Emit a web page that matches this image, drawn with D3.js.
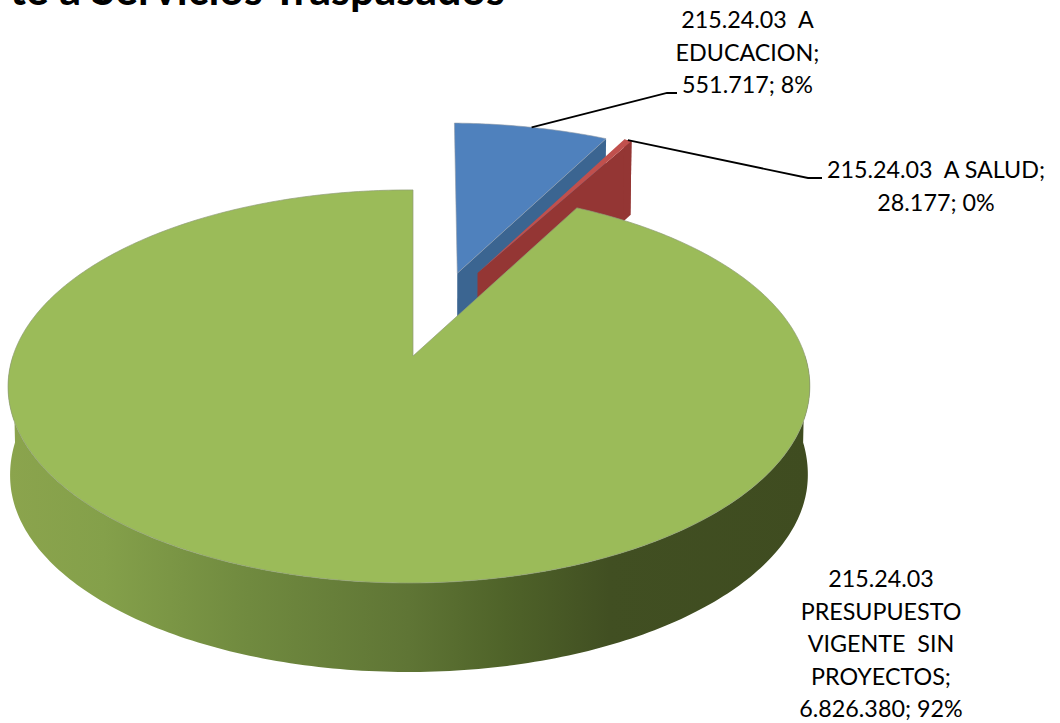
<!DOCTYPE html>
<html><head><meta charset="utf-8">
<script src="https://cdn.jsdelivr.net/npm/d3@7/dist/d3.min.js"></script>
<style>html,body{margin:0;padding:0;background:#fff}svg{display:block}</style></head>
<body><svg id="c" width="1060" height="723"></svg>
<script>
const categories = ["215.24.03  A EDUCACION","215.24.03  A SALUD","215.24.03  PRESUPUESTO VIGENTE  SIN PROYECTOS"];
const values = [551717, 28177, 6826380];
const percents = ["8%","0%","92%"];
const valueLabels = ["551.717","28.177","6.826.380"];
const labelLines = [["215.24.03  A","EDUCACION;","551.717; 8%"],["215.24.03  A SALUD;","28.177; 0%"],["215.24.03","PRESUPUESTO","VIGENTE  SIN","PROYECTOS;","6.826.380; 92%"]];
const topColors = ["#4f81bd","#c0504d","#9bbb59"];
const sideColors = ["#3b6591","#943634","#5f7534"];
const titleText = "te a Servicios Traspasados";

// layout of the 3D projection
const explode = [[0.12,0.463],[0.175,0.464],[0,0]];
const radii = [1.035,1.03,1];
const spins = [0.0087,0.012,0];
const svg = d3.select("#c");
const Cx=413, Cy=356, A=396, B=191.8, k=0.155, m=0.01;
function proj(u,v){const w=1+k*v+m*u;return [Cx+A*u/w,Cy-B*v/w];}
function depth(p){const D=74+Math.min(1,(p[1]-140)/260)*15;return [Cx+(p[0]-Cx)*0.995,p[1]+D];}
const pie=d3.pie().sort(null).value(d=>d)(values);
function pt(i,a,r=radii[i]){const e=explode[i],b=a+spins[i];return proj(e[0]+r*Math.sin(b),e[1]+r*Math.cos(b));}
const line=d3.line();
function arcPts(i,a0,a1,n){return d3.range(n+1).map(j=>pt(i,a0+(a1-a0)*j/n));}

const defs=svg.append("defs");
const grad=defs.append("linearGradient").attr("id","sideG").attr("gradientUnits","userSpaceOnUse").attr("x1",8).attr("x2",810).attr("y1",0).attr("y2",0);
[[0,"#8ba44d"],[0.12,"#84a04a"],[0.3,"#708a3f"],[0.5,"#5f7535"],[0.62,"#4f6329"],[0.75,"#414f22"],[1,"#3f4c20"]].forEach(s=>grad.append("stop").attr("offset",s[0]).attr("stop-color",s[1]));

// exploded slices: blue then red
[0,1].forEach(i=>{
  const s=pie[i];
  const apex=pt(i,0,0), corner=pt(i,s.endAngle);
  const quad=[corner,apex,depth(apex),depth(corner)];
  svg.append("path").attr("d",line(quad)+"Z").attr("fill",sideColors[i]);
  if(i===1){
    const st=pt(i,s.startAngle);
    svg.append("path").attr("d",line([corner,st,depth(st),depth(corner)])+"Z").attr("fill",sideColors[i]);
  }
  svg.append("path").attr("d",line([apex,...arcPts(i,s.startAngle,s.endAngle,40)])+"Z").attr("fill",topColors[i]).attr("stroke","#8e9aa8").attr("stroke-width",i===0?0.6:0);
});

// green: side wall and top face
const g=pie[2];
const front=arcPts(2,Math.PI*0.5,Math.PI*1.5,200);
svg.append("path").attr("d",line([...front,...front.map(depth).reverse()])+"Z").attr("fill","url(#sideG)");
svg.append("path").attr("d",line([pt(2,0,0),...arcPts(2,g.startAngle,g.endAngle,400)])+"Z").attr("fill",topColors[2]).attr("stroke","#8f9c77").attr("stroke-width",0.7);

// leader lines, from slice rim to label
function leader(pts){svg.append("path").attr("d",line(pts)).attr("fill","none").attr("stroke","#000").attr("stroke-width",1.8);}
const bm=pt(0,(pie[0].startAngle+pie[0].endAngle)/2), rm=pt(1,(pie[1].startAngle+pie[1].endAngle)/2);
leader([bm,[667,93],[677,93]]);
leader([rm,[808,178],[822,178]]);

// labels
const font="Lato, 'Open Sans', sans-serif";
function label(lines,x,y0,dy){lines.forEach((t,j)=>svg.append("text").attr("x",x).attr("y",y0+j*dy).attr("text-anchor","middle").attr("xml:space","preserve").attr("font-family",font).attr("font-size",23.3).attr("fill","#000").text(t));}
label(labelLines[0],747.5,28,32.5);
label(labelLines[1],936,178,32.5);
label(labelLines[2],881,587,32.5);
svg.append("text").attr("x",10).attr("y",5).attr("font-family",font).attr("font-weight",700).attr("font-size",43).attr("fill","#000").text(titleText);
</script></body></html>
